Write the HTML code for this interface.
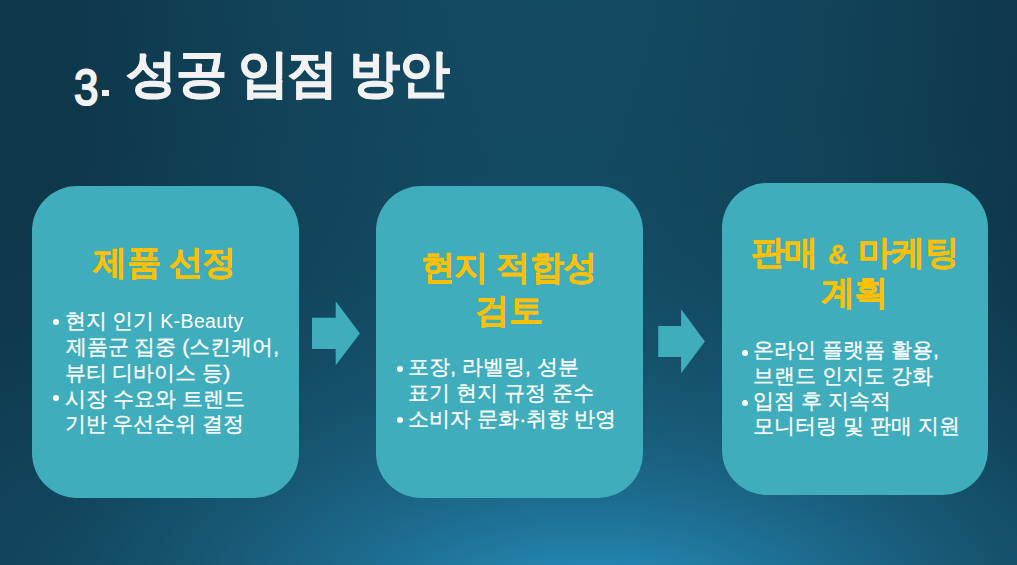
<!DOCTYPE html>
<html lang="ko">
<head>
<meta charset="utf-8">
<style>
html,body{margin:0;padding:0;}
body{width:1017px;height:565px;overflow:hidden;position:relative;
  font-family:"Liberation Sans",sans-serif;
  background:#0f3b51;
  background:radial-gradient(ellipse 1636px 616px at 596px 597px, rgba(52,190,251,0.640) 0%, rgba(52,190,251,0.520) 5%, rgba(52,190,251,0.418) 10%, rgba(52,190,251,0.332) 15%, rgba(52,190,251,0.260) 20%, rgba(52,190,251,0.200) 25%, rgba(52,190,251,0.151) 30%, rgba(52,190,251,0.112) 35%, rgba(52,190,251,0.081) 40%, rgba(52,190,251,0.057) 45%, rgba(52,190,251,0.039) 50%, rgba(52,190,251,0.025) 55%, rgba(52,190,251,0.016) 60%, rgba(52,190,251,0.009) 65%, rgba(52,190,251,0.005) 70%, rgba(52,190,251,0.002) 75%, rgba(52,190,251,0.001) 80%, rgba(52,190,251,0.000) 85%, rgba(52,190,251,0.000) 90%, rgba(52,190,251,0.000) 95%, rgba(52,190,251,0.000) 100%),radial-gradient(ellipse 531px 4000px at 551px -1499px, rgb(23,87,114) 0%, rgb(14,55,74) 100%);
}
.t{position:absolute;white-space:nowrap;line-height:1;}
.title{color:#f2f2f2;font-weight:bold;font-size:50.5px;letter-spacing:-1.45px;-webkit-text-stroke:0.9px #f2f2f2;}
.box{position:absolute;background:#40adbd;border-radius:45px;}
.h{position:absolute;left:0;right:0;text-align:center;color:#ffc000;font-weight:bold;font-size:34px;line-height:1;white-space:nowrap;-webkit-text-stroke:0.35px #ffc000;letter-spacing:-0.6px;text-indent:-0.6px;}
.b{position:absolute;color:#fff;font-size:21px;line-height:1;white-space:nowrap;-webkit-text-stroke:0.3px #fff;}
.dot{position:absolute;width:6px;height:6px;border-radius:50%;background:#fff;}
svg{position:absolute;left:0;top:0;}
</style>
</head>
<body>
<div class="t" style="left:73.7px;top:63px;font-size:50px;font-weight:normal;color:#f2f2f2;-webkit-text-stroke:2px #f2f2f2;transform:scaleX(0.88);transform-origin:0 0;">3</div>
<div style="position:absolute;left:102px;top:90px;width:7px;height:6px;background:#f2f2f2;"></div>
<div class="t title" style="left:126px;top:49.2px;">성공 입점 방안</div>

<div class="box" style="left:31.5px;top:185.5px;width:267px;height:312px;"></div>
<div class="box" style="left:375.5px;top:185.5px;width:267px;height:312px;"></div>
<div class="box" style="left:721.5px;top:182.5px;width:266px;height:312px;"></div>

<svg width="1017" height="565" viewBox="0 0 1017 565">
  <polygon fill="#40adbd" points="312,317.8 335.7,317.8 335.7,301.3 359.9,333.5 335.7,365.3 335.7,349 312,349"/>
  <polygon fill="#40adbd" points="658.2,325.9 681.1,325.9 681.1,309.3 704.9,341.5 681.1,373.3 681.1,357 658.2,357"/>
</svg>

<!-- box 1 -->
<div style="position:absolute;left:31.3px;top:0;width:266.7px;height:565px;">
  <div class="h" style="top:245px;">제품 선정</div>
</div>
<div class="dot" style="left:52.8px;top:319.2px;"></div>
<div class="b" style="left:64.5px;top:309.6px;">현지 인기 <span style="font-size:19.5px;letter-spacing:0.4px;-webkit-text-stroke:0">K-Beauty</span></div>
<div class="b" style="left:65.6px;top:335.9px;">제품군 집중 (스킨케어,</div>
<div class="b" style="left:64.5px;top:361.5px;">뷰티 디바이스 등)</div>
<div class="dot" style="left:52.8px;top:395.4px;"></div>
<div class="b" style="left:65.2px;top:387.8px;">시장 수요와 트렌드</div>
<div class="b" style="left:64.5px;top:412.9px;">기반 우선순위 결정</div>

<!-- box 2 -->
<div style="position:absolute;left:375.3px;top:0;width:267.1px;height:565px;">
  <div class="h" style="top:250.4px;">현지 적합성</div>
  <div class="h" style="top:293px;">검토</div>
</div>
<div class="dot" style="left:396.6px;top:365.6px;"></div>
<div class="b" style="left:408.3px;top:355.9px;">포장, 라벨링, 성분</div>
<div class="b" style="left:408.3px;top:381.8px;">표기 현지 규정 준수</div>
<div class="dot" style="left:396.6px;top:416.8px;"></div>
<div class="b" style="left:408.3px;top:407.8px;">소비자 문화·취향 반영</div>

<!-- box 3 -->
<div style="position:absolute;left:721.7px;top:0;width:265.9px;height:565px;">
  <div class="h" style="top:235px;word-spacing:1.5px;">판매 <span style="font-size:28px">&amp;</span> 마케팅</div>
  <div class="h" style="top:275.1px;">계획</div>
</div>
<div class="dot" style="left:742.3px;top:349.9px;"></div>
<div class="b" style="left:753.3px;top:338.5px;">온라인 플랫폼 활용,</div>
<div class="b" style="left:753.3px;top:364.5px;">브랜드 인지도 강화</div>
<div class="dot" style="left:742.3px;top:400px;"></div>
<div class="b" style="left:753.1px;top:390.4px;">입점 후 지속적</div>
<div class="b" style="left:753.3px;top:415.2px;">모니터링 및 판매 지원</div>
</body>
</html>
